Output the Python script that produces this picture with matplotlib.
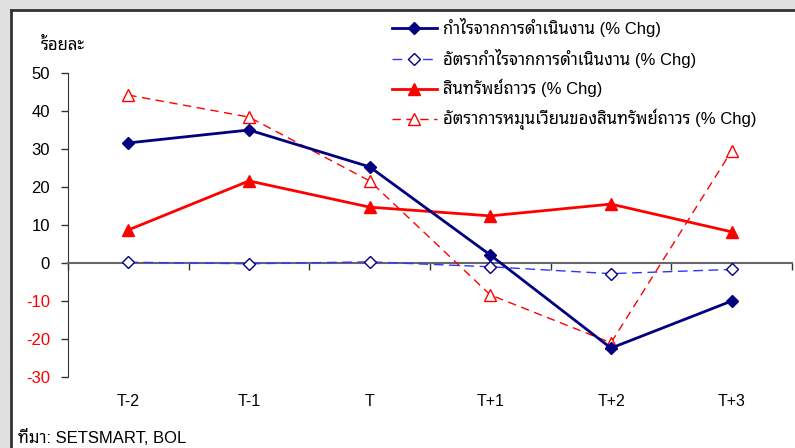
import matplotlib
matplotlib.use("Agg")
import matplotlib.pyplot as plt
from matplotlib.lines import Line2D
from matplotlib.patches import Rectangle
import matplotlib.transforms as mtransforms

plt.rcParams["font.family"] = ["Liberation Sans", "Noto Sans Thai Looped", "DejaVu Sans"]
plt.rcParams["axes.unicode_minus"] = False

periods = ["T-2", "T-1", "T", "T+1", "T+2", "T+3"]
op_profit = [31.6, 35.0, 25.3, 2.1, -22.4, -10.0]
op_margin = [0.2, -0.2, 0.3, -1.0, -2.8, -1.7]
fixed_assets = [8.7, 21.6, 14.7, 12.4, 15.5, 8.2]
asset_turnover = [44.2, 38.4, 21.6, -8.4, -21.0, 29.5]

labels = [
    "กำไรจากการดำเนินงาน (% Chg)",
    "อัตรากำไรจากการดำเนินงาน (% Chg)",
    "สินทรัพย์ถาวร (% Chg)",
    "อัตราการหมุนเวียนของสินทรัพย์ถาวร (% Chg)",
]

W, H = 795, 448
fig = plt.figure(figsize=(W / 100, H / 100), dpi=100, facecolor="#e0e0e0")
# white panel with dark frame on top and left
fig.add_artist(Rectangle((11 / W, 0), 1, (H - 10) / H, transform=fig.transFigure,
                         facecolor="white", edgecolor="none", zorder=0))
fig.add_artist(Line2D([11 / W, 11 / W], [0, (H - 10) / H], transform=fig.transFigure,
                      color="#333333", lw=2))
fig.add_artist(Line2D([11 / W, 1], [(H - 10) / H, (H - 10) / H], transform=fig.transFigure,
                      color="#333333", lw=2))

ax = fig.add_axes([68 / W, (H - 377) / H, (792 - 68) / W, (377 - 73) / H])
ax.patch.set_alpha(0)
x = list(range(len(periods)))

ax.plot(x, op_profit, color="#000080", lw=2, marker="D", ms=6.5,
        mfc="#000080", mec="#000080", label=labels[0], zorder=5)
ax.plot(x, op_margin, color="#3333ff", lw=1, ls=(0, (7, 4)), marker="D", ms=6.5,
        mfc="white", mec="#000080", mew=1, label=labels[1], zorder=4)
ax.plot(x, fixed_assets, color="#ff0000", lw=2, marker="^", ms=9,
        mfc="#ff0000", mec="#ff0000", label=labels[2], zorder=4)
ax.plot(x, asset_turnover, color="#ff0000", lw=1, ls=(0, (6, 4)), marker="^", ms=9,
        mfc="white", mec="#ff0000", mew=1, label=labels[3], zorder=3)

ax.set_xlim(-0.5, len(periods) - 0.5)
ax.set_ylim(-30, 50)
ax.set_yticks(range(-30, 51, 10))
ax.tick_params(axis="y", direction="out", length=5, width=1, color="#333333",
               labelsize=12, pad=8)
for t in ax.get_yticklabels():
    if float(t.get_text()) < 0:
        t.set_color("#ff0000")

ax.spines["top"].set_visible(False)
ax.spines["right"].set_visible(False)
ax.spines["left"].set_color("#333333")
ax.spines["bottom"].set_position(("data", 0))
ax.spines["bottom"].set_color("#666666")
ax.spines["bottom"].set_linewidth(1.5)
ax.set_xticks([i - 0.5 for i in range(len(periods) + 1)])
ax.set_xticklabels([])
ax.tick_params(axis="x", direction="out", length=5, width=1, color="#333333")

trans = mtransforms.blended_transform_factory(ax.transData, ax.transAxes)
for i, p in enumerate(periods):
    ax.text(i, -0.082, p, transform=trans, ha="center", va="center", fontsize=11.5)

fig.text(41 / W, 1 - 45 / H, "ร้อยละ", ha="left", va="center", fontsize=12,
         fontweight="bold")
fig.text(18 / W, 1 - 437 / H, "ที่มา: SETSMART, BOL", ha="left", va="center", fontsize=12)

ax.legend(loc="upper left", bbox_to_anchor=((385 - 68) / (792 - 68), 1 + (73 - 11) / 304),
          frameon=False, fontsize=12, handlelength=2.7, labelspacing=0.7,
          handletextpad=0.4, borderaxespad=0)

fig.savefig("out.png", dpi=100, facecolor=fig.get_facecolor())
